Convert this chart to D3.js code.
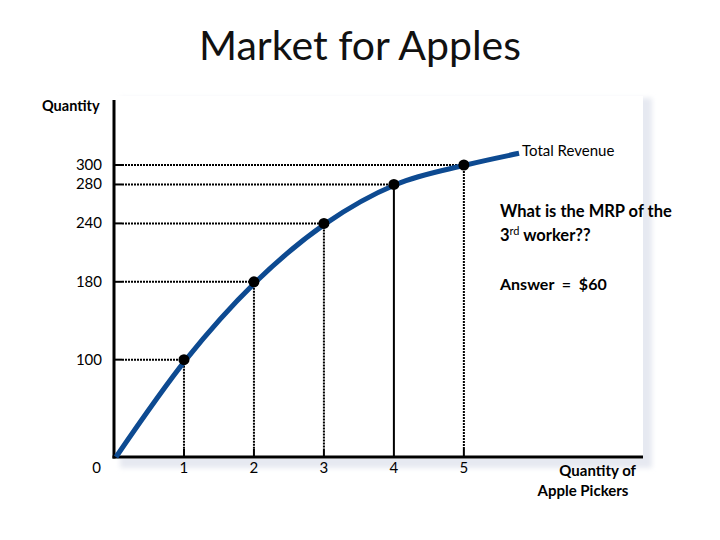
<!DOCTYPE html>
<html>
<head>
<meta charset="utf-8">
<script src="https://cdn.jsdelivr.net/npm/d3@7"></script>
<style>
  body { margin: 0; background: #fff; }
  text { font-family: Lato, "Open Sans", sans-serif; }
</style>
</head>
<body>
<div id="chart"></div>
<script>
const width = 720;
const height = 540;

// data
const workers = [0, 1, 2, 3, 4, 5, 5.76];
const revenue = [0, 100, 180, 240, 280, 300, 312];
const markedWorkers = [1, 2, 3, 4, 5];
const markedRevenue = [100, 180, 240, 280, 300];
const yTickLabels = [300, 280, 240, 180, 100];
const xTickLabels = [1, 2, 3, 4, 5];

const data = workers.map((w, i) => ({ x: w, y: revenue[i] }));
const marked = markedWorkers.map((w, i) => ({ x: w, y: markedRevenue[i] }));

// SCALES
const xScale = d3.scaleLinear().domain([0, 7.56]).range([114, 643]);
const yScale = d3.scaleLinear().domain([0, 300]).range([457, 165]);

const svg = d3
  .select("#chart")
  .append("svg")
  .attr("width", width)
  .attr("height", height);

// PANEL + SHADOW
const defs = svg.append("defs");
defs
  .append("filter")
  .attr("id", "soft")
  .append("feGaussianBlur")
  .attr("stdDeviation", 2.5);

svg
  .append("rect")
  .attr("x", 120)
  .attr("y", 98)
  .attr("width", 532)
  .attr("height", 370)
  .attr("fill", "#e6e9f1")
  .attr("filter", "url(#soft)");

svg
  .append("rect")
  .attr("x", 112)
  .attr("y", 96)
  .attr("width", 531)
  .attr("height", 363)
  .attr("fill", "#fff");

// TITLE
svg
  .append("text")
  .text("Market for Apples")
  .attr("x", 360)
  .attr("y", 60)
  .attr("text-anchor", "middle")
  .style("font-size", "41px")
  .attr("fill", "#111");

// GUIDE LINES
const guides = svg.append("g");

guides
  .selectAll("line.h")
  .data(marked)
  .enter()
  .append("line")
  .attr("class", "h")
  .attr("x1", xScale(0) + 8)
  .attr("x2", (d) => xScale(d.x))
  .attr("y1", (d) => yScale(d.y))
  .attr("y2", (d) => yScale(d.y))
  .attr("stroke", "#000")
  .attr("stroke-width", 2)
  .attr("stroke-dasharray", "2,1");

guides
  .selectAll("line.htick")
  .data(marked)
  .enter()
  .append("line")
  .attr("class", "htick")
  .attr("x1", xScale(0))
  .attr("x2", xScale(0) + 8)
  .attr("y1", (d) => yScale(d.y))
  .attr("y2", (d) => yScale(d.y))
  .attr("stroke", "#000")
  .attr("stroke-width", 2);

guides
  .selectAll("line.v")
  .data(marked)
  .enter()
  .append("line")
  .attr("class", "v")
  .attr("x1", (d) => xScale(d.x))
  .attr("x2", (d) => xScale(d.x))
  .attr("y1", (d) => yScale(d.y))
  .attr("y2", yScale(0) - 8)
  .attr("stroke", "#000")
  .attr("stroke-width", 2)
  .attr("stroke-dasharray", (d) => (d.x === 4 ? null : "2,1"));

guides
  .selectAll("line.vtick")
  .data(marked)
  .enter()
  .append("line")
  .attr("class", "vtick")
  .attr("x1", (d) => xScale(d.x))
  .attr("x2", (d) => xScale(d.x))
  .attr("y1", yScale(0) - 8)
  .attr("y2", yScale(0))
  .attr("stroke", "#000")
  .attr("stroke-width", 2);

// AXES
svg
  .append("line")
  .attr("x1", xScale(0))
  .attr("x2", xScale(0))
  .attr("y1", 100)
  .attr("y2", yScale(0) + 1.5)
  .attr("stroke", "#000")
  .attr("stroke-width", 3);

svg
  .append("line")
  .attr("x1", xScale(0) - 1.5)
  .attr("x2", 643)
  .attr("y1", yScale(0))
  .attr("y2", yScale(0))
  .attr("stroke", "#000")
  .attr("stroke-width", 3);

// CURVE
const lineGenerator = d3
  .line()
  .x((d) => xScale(d.x) + 2)
  .y((d) => yScale(d.y))
  .curve(d3.curveMonotoneX);

svg
  .append("path")
  .attr("d", lineGenerator(data))
  .attr("fill", "none")
  .attr("stroke", "#0d4a91")
  .attr("stroke-width", 5);

svg
  .selectAll("circle.dot")
  .data(marked)
  .enter()
  .append("circle")
  .attr("class", "dot")
  .attr("cx", (d) => xScale(d.x))
  .attr("cy", (d) => yScale(d.y))
  .attr("r", 5.5)
  .attr("fill", "#000");

// TICK LABELS
svg
  .selectAll("text.ylab")
  .data(yTickLabels)
  .enter()
  .append("text")
  .attr("class", "ylab")
  .text((d) => d)
  .attr("x", 102)
  .attr("y", (d) => yScale(d) + 5)
  .attr("text-anchor", "end")
  .style("font-size", "15px");

svg
  .append("text")
  .text("0")
  .attr("x", 101)
  .attr("y", 473)
  .attr("text-anchor", "end")
  .style("font-size", "15px");

svg
  .selectAll("text.xlab")
  .data(xTickLabels)
  .enter()
  .append("text")
  .attr("class", "xlab")
  .text((d) => d)
  .attr("x", (d) => xScale(d))
  .attr("y", 473)
  .attr("text-anchor", "middle")
  .style("font-size", "15px");

// LABELS
svg
  .append("text")
  .text("Quantity")
  .attr("x", 42)
  .attr("y", 111)
  .style("font-size", "14.5px")
  .style("font-weight", "bold");

svg
  .append("text")
  .text("Total Revenue")
  .attr("x", 522)
  .attr("y", 156)
  .style("font-size", "15px");

svg
  .append("text")
  .text("What is the MRP of the")
  .attr("x", 500)
  .attr("y", 217)
  .style("font-size", "16.5px")
  .style("font-weight", "bold");

const third = svg
  .append("text")
  .attr("x", 500)
  .attr("y", 241)
  .style("font-size", "16.5px")
  .style("font-weight", "bold");
third.append("tspan").text("3");
third
  .append("tspan")
  .text("rd")
  .attr("dy", -6)
  .style("font-size", "11px")
  .style("font-weight", "normal");
third.append("tspan").text(" worker??").attr("dy", 6);

svg
  .append("text")
  .text("Answer  =  $60")
  .attr("x", 500)
  .attr("y", 290)
  .style("font-size", "16px")
  .style("font-weight", "bold")
  .style("white-space", "pre");

svg
  .append("text")
  .text("Quantity of")
  .attr("x", 636)
  .attr("y", 476)
  .attr("text-anchor", "end")
  .style("font-size", "15px")
  .style("font-weight", "bold");

svg
  .append("text")
  .text("Apple Pickers")
  .attr("x", 583)
  .attr("y", 496)
  .attr("text-anchor", "middle")
  .style("font-size", "15px")
  .style("font-weight", "bold");
</script>
</body>
</html>
